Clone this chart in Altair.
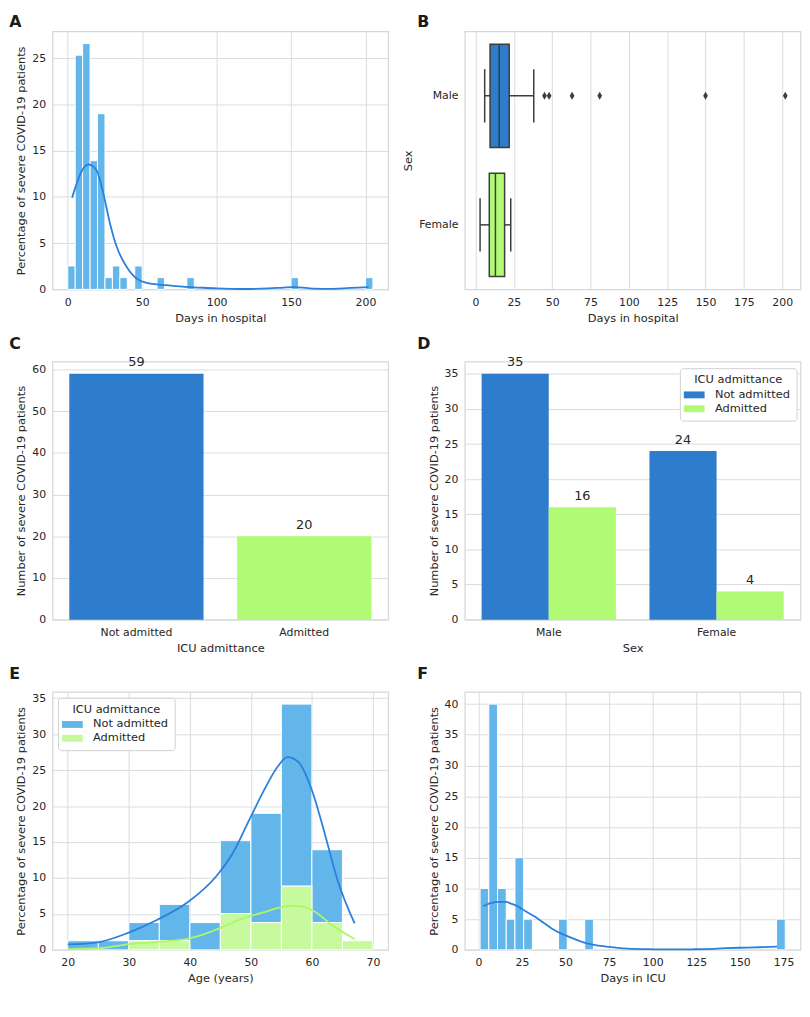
import altair as alt
import pandas as pd

FONT = "DejaVu Sans"
TXT = "#262626"
BLUE = "#2d7dcc"
GREEN = "#b1fa73"
HIST_BLUE = "#63b6e9"
HIST_GREEN = "#c7fa9f"
KDE_BLUE = "#2a80dc"
KDE_GREEN = "#aef56c"
EDGE = "#3d3d3d"
GRID = "#d9dde0"
FRAME = "#d4d8db"
W, H = 339.5, 261

# ---------------- data ----------------
panel_letters = ["A", "B", "C", "D", "E", "F"]

# A: days in hospital histogram (percent) + KDE
a_bin_lo = [0, 5, 10, 15, 20, 25, 30, 35, 45, 60, 80, 150, 200]
a_bin_hi = [5, 10, 15, 20, 25, 30, 35, 40, 50, 65, 85, 155, 205]
a_pct = [2.53, 25.32, 26.58, 13.92, 18.99, 1.27, 2.53, 1.27, 2.53, 1.27, 1.27, 1.27, 1.27]
a_kde_x = [2.9, 5.1, 8.5, 11, 14.0, 17, 19.6, 24, 28.4, 32.9, 39.5, 46.2, 55, 66, 77.2,
           88, 99.6, 110, 121.8, 135, 145, 151, 158, 166, 175, 185, 195, 202]
a_kde_y = [9.9, 11.0, 12.5, 13.2, 13.5, 13.3, 12.8, 10.3, 7.1, 4.6, 2.44, 1.18, 0.64, 0.45, 0.29,
           0.2, 0.11, 0.06, 0.04, 0.1, 0.2, 0.25, 0.2, 0.08, 0.05, 0.12, 0.2, 0.25]

# B: box plot of days in hospital by sex
b_sex = ["Male", "Female"]
b_low = [6, 3]
b_q1 = [9.5, 9]
b_med = [15.5, 13]
b_q3 = [22, 19]
b_high = [38, 23]
b_out_sex = ["Male", "Male", "Male", "Male", "Male", "Male"]
b_out_days = [45, 48, 63, 81, 150, 202]

# C: ICU admittance counts
icu_levels = ["Not admitted", "Admitted"]
c_counts = [59, 20]

# D: counts by sex and ICU admittance
d_sex = ["Male", "Male", "Female", "Female"]
d_icu = ["Not admitted", "Admitted", "Not admitted", "Admitted"]
d_counts = [35, 16, 24, 4]

# E: age histogram stacked by ICU admittance (percent) + KDEs
e_bin_lo = [20, 25, 30, 35, 40, 45, 50, 55, 60, 65]
e_bin_hi = [25, 30, 35, 40, 45, 50, 55, 60, 65, 70]
e_pct_not = [1.27, 1.27, 2.53, 5.06, 3.80, 10.13, 15.19, 25.32, 10.13, 0]
e_pct_adm = [0, 0, 1.27, 1.27, 0, 5.06, 3.80, 8.86, 3.80, 1.27]
e_kde_not_x = [20, 24.9, 30, 34.6, 39.7, 44.3, 47, 49.7, 52.4, 54.5, 56, 57.8, 60, 62.1, 64.2, 67]
e_kde_not_y = [0.78, 1.06, 2.4, 4.15, 6.65, 10.2, 13.4, 18, 22.6, 25.6, 26.8, 26.1, 22.2, 16.2, 9.7, 3.7]
e_kde_adm_x = [20, 25.4, 30, 35.1, 39.4, 42.7, 44.8, 48, 52.4, 56.1, 57.8, 60.5, 63.2, 67]
e_kde_adm_y = [0.09, 0.23, 0.8, 1.15, 1.5, 2.3, 3.0, 4.15, 5.3, 6.1, 6.1, 5.3, 3.5, 1.5]

# F: days in ICU histogram (percent) + KDE
f_bin_lo = [1, 6, 11, 16, 21, 26, 46, 61, 171]
f_bin_hi = [6, 11, 16, 21, 26, 31, 51, 66, 176]
f_pct = [10, 40, 10, 5, 15, 5, 5, 5, 5]
f_kde_x = [2.8, 7, 11.9, 15.7, 19, 23.2, 27, 32.6, 37, 42, 49.6, 55, 59, 65, 70.4, 78, 85.5,
           100.6, 115, 123, 135, 142, 150, 161, 171.3]
f_kde_y = [7.1, 7.6, 7.8, 7.8, 7.5, 7.0, 6.3, 5.4, 4.5, 3.5, 2.4, 1.8, 1.35, 0.9, 0.65, 0.4, 0.2,
           0.1, 0.07, 0.1, 0.18, 0.27, 0.35, 0.43, 0.54]

PCT_TITLE = "Percentage of severe COVID-19 patients"
NUM_TITLE = "Number of severe COVID-19 patients"
SWATCH = "M-1.235,-0.41H1.235V0.41H-1.235Z"
DIAMOND = "M0,-1L0.6,0L0,1L-0.6,0Z"


def letter(t, px, py):
    """Bold panel letter placed relative to the panel's plot area."""
    return alt.Chart(pd.DataFrame({"t": [t]})).mark_text(
        align="left", baseline="top", fontSize=16, fontWeight="bold",
        font=FONT, color="#1a1a1a").encode(text="t:N", x=alt.value(px), y=alt.value(py))


def qx(field, title, domain, values, grid=True):
    return alt.X(field, title=title,
                 scale=alt.Scale(domain=domain, nice=False, zero=False),
                 axis=alt.Axis(values=values, grid=grid))


def qy(field, title, domain, values, grid=True):
    return alt.Y(field, title=title,
                 scale=alt.Scale(domain=domain, nice=False, zero=False),
                 axis=alt.Axis(values=values, grid=grid))


def ice_legend(lx, ly):
    return alt.Legend(title="ICU admittance", orient="none", legendX=lx, legendY=ly,
                      symbolType=SWATCH, symbolSize=289, symbolStrokeWidth=0,
                      symbolOpacity=1)


TOP_Y = -17
LOW_Y = -26
LEFT_X = -43.7
RIGHT_X = -48.2

# ---------------- panel A ----------------
a_hist = pd.DataFrame({"lo": a_bin_lo, "hi": a_bin_hi, "pct": a_pct})
a_kde = pd.DataFrame({"x": a_kde_x, "y": a_kde_y})
A_XD, A_YD = [-10.25, 215.25], [0, 27.9]
A_XV, A_YV = [0, 50, 100, 150, 200], [0, 5, 10, 15, 20, 25]
a_bars = alt.Chart(a_hist).mark_bar(color=HIST_BLUE, stroke="white", strokeWidth=1).encode(
    x=qx("lo:Q", "Days in hospital", A_XD, A_XV), x2="hi:Q",
    y=qy("pct:Q", PCT_TITLE, A_YD, A_YV), y2=alt.datum(0))
a_line = alt.Chart(a_kde).mark_line(color=KDE_BLUE, strokeWidth=1.8, interpolate="monotone").encode(
    x=qx("x:Q", "Days in hospital", A_XD, A_XV),
    y=qy("y:Q", PCT_TITLE, A_YD, A_YV))
panelA = alt.layer(a_bars, a_line, letter(panel_letters[0], LEFT_X, TOP_Y)).properties(
    width=W, height=H)

# ---------------- panel B ----------------
b_box = pd.DataFrame({"sex": b_sex, "low": b_low, "q1": b_q1, "med": b_med,
                      "q3": b_q3, "high": b_high})
b_out = pd.DataFrame({"sex": b_out_sex, "days": b_out_days})
B_XD, B_XV = [-6.95, 211.95], list(range(0, 201, 25))
b_y = alt.Y("sex:N", title="Sex",
            scale=alt.Scale(domain=b_sex, paddingInner=0.2, paddingOuter=0.1),
            axis=alt.Axis(grid=False))
b_whisk = alt.Chart(b_box).mark_rule(color=EDGE, strokeWidth=1.5).encode(
    x=qx("low:Q", "Days in hospital", B_XD, B_XV), x2="high:Q", y=b_y)
b_caps = alt.Chart(b_box).transform_fold(["low", "high"], as_=["k", "v"]).mark_tick(
    color=EDGE, size=54, thickness=1.5, orient="vertical", opacity=1).encode(
    x=qx("v:Q", "Days in hospital", B_XD, B_XV), y=b_y)
b_boxes = alt.Chart(b_box).mark_bar(stroke=EDGE, strokeWidth=1.5, opacity=1).encode(
    x=qx("q1:Q", "Days in hospital", B_XD, B_XV), x2="q3:Q", y=b_y,
    color=alt.Color("sex:N", scale=alt.Scale(domain=b_sex, range=[BLUE, GREEN]), legend=None))
b_meds = alt.Chart(b_box).mark_tick(color=EDGE, size=104, thickness=1.5, orient="vertical",
                                    opacity=1).encode(
    x=qx("med:Q", "Days in hospital", B_XD, B_XV), y=b_y)
b_pts = alt.Chart(b_out).mark_point(shape=DIAMOND, filled=True, size=64, color=EDGE,
                                    opacity=1).encode(
    x=qx("days:Q", "Days in hospital", B_XD, B_XV), y=b_y)
panelB = alt.layer(b_whisk, b_caps, b_boxes, b_meds, b_pts,
                   letter(panel_letters[1], RIGHT_X, TOP_Y)).properties(width=W, height=H)

# ---------------- panel C ----------------
c_df = pd.DataFrame({"icu": icu_levels, "n": c_counts})
c_x = alt.X("icu:N", title="ICU admittance",
            scale=alt.Scale(domain=icu_levels, paddingInner=0.2, paddingOuter=0.1),
            axis=alt.Axis(labelAngle=0, grid=False))
c_y = qy("n:Q", NUM_TITLE, [0, 61.95], [0, 10, 20, 30, 40, 50, 60])
c_bars = alt.Chart(c_df).mark_bar().encode(
    x=c_x, y=c_y,
    color=alt.Color("icu:N", scale=alt.Scale(domain=icu_levels, range=[BLUE, GREEN]), legend=None))
c_text = alt.Chart(c_df).mark_text(dy=-7.5, baseline="alphabetic", fontSize=13, color=TXT,
                                   font=FONT).encode(x=c_x, y=c_y, text="n:Q")
panelC = alt.layer(c_bars, c_text, letter(panel_letters[2], LEFT_X, LOW_Y)).properties(
    width=W, height=H)

# ---------------- panel D ----------------
d_df = pd.DataFrame({"sex": d_sex, "icu": d_icu, "n": d_counts})
d_x = alt.X("sex:N", title="Sex",
            scale=alt.Scale(domain=b_sex, paddingInner=0.2, paddingOuter=0.1),
            axis=alt.Axis(labelAngle=0, grid=False))
d_xo = alt.XOffset("icu:N", scale=alt.Scale(domain=icu_levels, paddingInner=0, paddingOuter=0))
d_y = qy("n:Q", NUM_TITLE, [0, 36.75], [0, 5, 10, 15, 20, 25, 30, 35])
d_bars = alt.Chart(d_df).mark_bar().encode(
    x=d_x, xOffset=d_xo, y=d_y,
    color=alt.Color("icu:N", scale=alt.Scale(domain=icu_levels, range=[BLUE, GREEN]),
                    legend=ice_legend(217.5, 6.7)))
d_text = alt.Chart(d_df).mark_text(dy=-7.5, baseline="alphabetic", fontSize=13, color=TXT,
                                   font=FONT).encode(x=d_x, xOffset=d_xo, y=d_y, text="n:Q")
panelD = alt.layer(d_bars, d_text, letter(panel_letters[3], RIGHT_X, LOW_Y)).properties(
    width=W, height=H)

# ---------------- panel E ----------------
e_hist = pd.DataFrame({
    "lo": e_bin_lo + e_bin_lo,
    "hi": e_bin_hi + e_bin_hi,
    "icu": ["Not admitted"] * len(e_bin_lo) + ["Admitted"] * len(e_bin_lo),
    "pct": e_pct_not + e_pct_adm,
})
e_kde = pd.DataFrame({
    "x": e_kde_not_x + e_kde_adm_x,
    "y": e_kde_not_y + e_kde_adm_y,
    "icu": ["Not admitted"] * len(e_kde_not_x) + ["Admitted"] * len(e_kde_adm_x),
})
E_XD, E_YD = [17.5, 72.5], [0, 35.89]
E_XV, E_YV = [20, 30, 40, 50, 60, 70], [0, 5, 10, 15, 20, 25, 30, 35]
e_bars = alt.Chart(e_hist).transform_filter("datum.pct > 0").transform_calculate(
    ord="datum.icu == 'Admitted' ? 0 : 1").transform_stack(
    stack="pct", groupby=["lo"], as_=["y0", "y1"],
    sort=[alt.SortField("ord", order="ascending")]).mark_bar(
    stroke="white", strokeWidth=1).encode(
    x=qx("lo:Q", "Age (years)", E_XD, E_XV), x2="hi:Q",
    y=qy("y0:Q", PCT_TITLE, E_YD, E_YV), y2="y1:Q",
    color=alt.Color("icu:N", scale=alt.Scale(domain=icu_levels, range=[HIST_BLUE, HIST_GREEN]),
                    legend=ice_legend(5.6, 6)))
e_lines = alt.Chart(e_kde).mark_line(strokeWidth=1.8, interpolate="monotone").encode(
    x=qx("x:Q", "Age (years)", E_XD, E_XV),
    y=qy("y:Q", PCT_TITLE, E_YD, E_YV),
    stroke=alt.Stroke("icu:N", scale=alt.Scale(domain=icu_levels, range=[KDE_BLUE, KDE_GREEN]),
                      legend=None))
panelE = alt.layer(e_bars, e_lines, letter(panel_letters[4], LEFT_X, LOW_Y)).properties(
    width=W, height=H)

# ---------------- panel F ----------------
f_hist = pd.DataFrame({"lo": f_bin_lo, "hi": f_bin_hi, "pct": f_pct})
f_kde = pd.DataFrame({"x": f_kde_x, "y": f_kde_y})
F_XD, F_YD = [-7.75, 184.75], [0, 42]
F_XV, F_YV = list(range(0, 176, 25)), [0, 5, 10, 15, 20, 25, 30, 35, 40]
f_bars = alt.Chart(f_hist).mark_bar(color=HIST_BLUE, stroke="white", strokeWidth=1).encode(
    x=qx("lo:Q", "Days in ICU", F_XD, F_XV), x2="hi:Q",
    y=qy("pct:Q", PCT_TITLE, F_YD, F_YV), y2=alt.datum(0))
f_line = alt.Chart(f_kde).mark_line(color=KDE_BLUE, strokeWidth=1.8, interpolate="monotone").encode(
    x=qx("x:Q", "Days in ICU", F_XD, F_XV),
    y=qy("y:Q", PCT_TITLE, F_YD, F_YV))
panelF = alt.layer(f_bars, f_line, letter(panel_letters[5], RIGHT_X, LOW_Y)).properties(
    width=W, height=H)

# ---------------- assemble ----------------
chart = alt.concat(
    panelA, panelB, panelC, panelD, panelE, panelF,
    columns=2, spacing={"row": 73, "column": 77}, bounds="flush", padding=0,
).resolve_scale(color="independent", x="independent", y="independent").configure(
    font=FONT
).configure_axis(
    labelFont=FONT, labelFontSize=11, labelColor=TXT,
    titleFont=FONT, titleFontSize=11.5, titleFontWeight="normal", titleColor=TXT,
    ticks=False, tickSize=0, domain=False, gridColor=GRID, gridWidth=1,
    labelPadding=7, titlePadding=5,
).configure_view(
    stroke=FRAME, strokeWidth=1.25,
).configure_legend(
    labelFont=FONT, titleFont=FONT, labelFontSize=11.5, titleFontSize=11.5,
    titleFontWeight="normal", labelColor=TXT, titleColor=TXT,
    fillColor="white", strokeColor="#d0d0d0", cornerRadius=3, padding=6,
    titlePadding=1, labelOffset=12.4, rowPadding=0, titleAnchor="middle",
)

chart.save("out.html", embed_options={"renderer": "svg", "actions": False})
